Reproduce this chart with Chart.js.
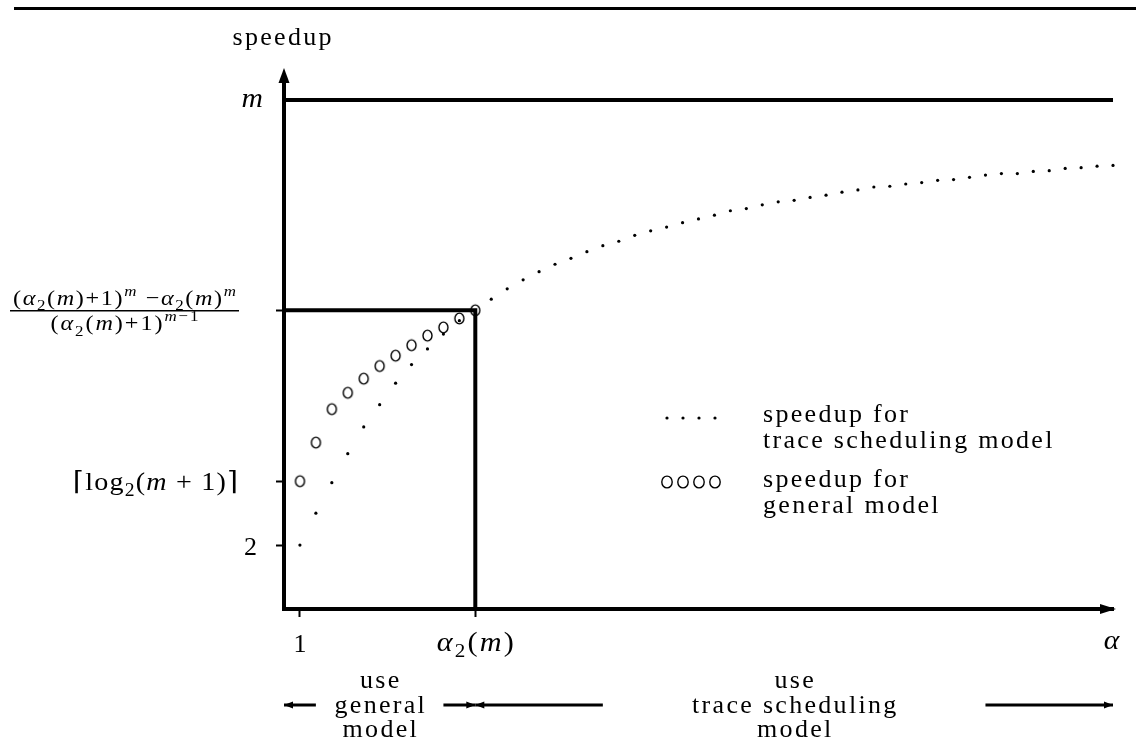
<!DOCTYPE html>
<html>
<head>
<meta charset="utf-8">
<script src="https://cdn.jsdelivr.net/npm/chart.js@4.4.1/dist/chart.umd.min.js"></script>
<style>
  html, body { margin: 0; padding: 0; background: #ffffff; }
  #wrap { width: 1136px; height: 744px; position: relative; }
  canvas { display: block; }
</style>
</head>
<body>
<div id="wrap"><canvas id="c" width="1136" height="744"></canvas></div>
<script>
// ---------------- data ----------------
const alphaSteps = [1, 2, 3, 4, 5, 6, 7, 8, 9, 10, 11, 12, 13, 14, 15, 16, 17, 18, 19, 20,
  21, 22, 23, 24, 25, 26, 27, 28, 29, 30, 31, 32, 33, 34, 35, 36, 37, 38, 39, 40,
  41, 42, 43, 44, 45, 46, 47, 48, 49, 50, 51, 52];

const traceSpeedup = [2.01, 2.44, 2.85, 3.24, 3.60, 3.90, 4.19, 4.44, 4.65, 4.85, 5.03, 5.17,
  5.32, 5.46, 5.58, 5.69, 5.79, 5.87, 5.96, 6.04, 6.10, 6.18,
  6.24, 6.29, 6.35, 6.40, 6.45, 6.51, 6.54, 6.59, 6.63, 6.65,
  6.69, 6.72, 6.76, 6.79, 6.83, 6.84, 6.87, 6.89, 6.92, 6.93,
  6.96, 6.99, 7.01, 7.01, 7.04, 7.05, 7.08, 7.09, 7.11, 7.12];

const generalSpeedup = [2.87, 3.39, 3.84, 4.06, 4.25, 4.42, 4.56, 4.70, 4.83, 4.94, 5.06, 5.17];

const xRange = [0, 52];
const yRange = [1.15, 8.27];
const alpha2 = 12;
const alpha2Speedup = 5.17;
const mValue = 8;

const xTickValues = [1, 12];
const xTickLabels = ['1', '*α*_{2}(*m*)'];
const xAxisLabel = '*α*';

const yTickValues = [2, 2.86, 5.17, 8];
const yTickLabels = [
  '2',
  '⌈log_{2}(*m* + 1)⌉',
  ['(*α*_{2}(*m*)+1)^{*m*} −*α*_{2}(*m*)^{*m*}', '(*α*_{2}(*m*)+1)^{*m*−1}'],
  '*m*'
];
const yAxisLabel = 'speedup';

const seriesLabels = [['speedup for', 'trace scheduling model'], ['speedup for', 'general model']];
const regionBounds = [[0, 12], [12, 52]];
const regionLabels = [['use', 'general', 'model'], ['use', 'trace scheduling', 'model']];

// ---------------- layout / style (pixels) ----------------
const SERIF = '"Liberation Serif", "DejaVu Serif", "Times New Roman", serif';
const TXT = 26;
const TXT_SP = 2.3;
const L = {
  rule: { x0: 14, y: 8.5, w: 3 },
  title: { dx: -2, dy: -35 },
  yLabels: [
    { gap: 27, dy: 9.5, size: 26 },
    { gap: 46, dy: 8, width: 165, size: 26, stretch: 1.08 },
    { frac: true, center: 159.5, half: 114.5, size: 22, stretch: 1.1, numDy: -5.5, denDy: 20, numW: 223, denW: 148 },
    { gap: 21, dy: 7, size: 27, stretch: 1.1 }
  ],
  xLabels: [{ dy: 43, size: 26 }, { dy: 42, width: 77, size: 27, stretch: 1.12 }],
  xTitle: { dx: -1.5, dy: 40 },
  regions: { arrowDy: 96, lines: [79, 103.5, 128], ends: [[2, 10], [20, 44]] },
  legend: { mx: 383, mStep: 16, tx: 479, rows: [
    { my: 418, base: [421.5, 448] },
    { my: 482, base: [487, 513] }
  ] }
};

function makeRing(rx, ry, lw) {
  const c = document.createElement('canvas');
  c.width = Math.ceil(2 * rx + lw + 2);
  c.height = Math.ceil(2 * ry + lw + 2);
  const g = c.getContext('2d');
  g.strokeStyle = '#000';
  g.lineWidth = lw;
  g.beginPath();
  g.ellipse(c.width / 2, c.height / 2, rx, ry, 0, 0, Math.PI * 2);
  g.stroke();
  return c;
}
const ring = makeRing(4.5, 5.4, 1.4);

// ---------------- rich text helpers ----------------
function richItems(str, base) {
  const items = [];
  function walk(s, size, dy, italic) {
    let i = 0;
    while (i < s.length) {
      const c = s[i];
      if (c === '*') { italic = !italic; i++; continue; }
      if ((c === '_' || c === '^') && s[i + 1] === '{') {
        let depth = 1, j = i + 2;
        while (j < s.length && depth > 0) {
          if (s[j] === '{') depth++; else if (s[j] === '}') depth--;
          j++;
        }
        const inner = s.slice(i + 2, j - 1);
        walk(inner, size * 0.7, dy + (c === '_' ? size * 0.24 : -size * 0.42), italic);
        i = j; continue;
      }
      items.push({ ch: c, size: size, dy: dy, italic: italic });
      i++;
    }
  }
  walk(str, base, 0, false);
  return items;
}
function fontOf(it) { return (it.italic ? 'italic ' : '') + it.size + 'px ' + SERIF; }
function drawRich(ctx, str, x, y, o) {
  const items = richItems(str, o.size || TXT);
  const sx = o.stretch || 1;
  let nat = 0;
  for (const it of items) { ctx.font = fontOf(it); it.w = ctx.measureText(it.ch).width * sx; nat += it.w; }
  let sp = o.spacing || 0;
  if (o.width && items.length > 1) sp = Math.max(0, (o.width - nat) / (items.length - 1));
  const total = nat + sp * Math.max(0, items.length - 1);
  let cx = o.align === 'right' ? x - total : (o.align === 'center' ? x - total / 2 : x);
  ctx.textAlign = 'left';
  ctx.textBaseline = 'alphabetic';
  for (const it of items) {
    ctx.font = fontOf(it);
    ctx.save();
    ctx.translate(cx, y + it.dy);
    ctx.scale(sx, 1);
    ctx.fillText(it.ch, 0, 0);
    ctx.restore();
    cx += it.w + sp;
  }
  return total;
}
function tri(ctx, a, b, c) {
  ctx.beginPath(); ctx.moveTo(a[0], a[1]); ctx.lineTo(b[0], b[1]); ctx.lineTo(c[0], c[1]); ctx.closePath(); ctx.fill();
}
function hArrow(ctx, x0, x1, y, headAt) {
  ctx.lineWidth = 3;
  ctx.beginPath(); ctx.moveTo(x0, y); ctx.lineTo(x1, y); ctx.stroke();
  const tip = headAt === 'start' ? x0 : x1;
  const dir = headAt === 'start' ? 1 : -1;
  tri(ctx, [tip, y], [tip + dir * 9, y - 3.5], [tip + dir * 9, y + 3.5]);
}

// ---------------- decoration plugin ----------------
const decor = {
  id: 'decor',
  afterDraw(chart) {
    const { ctx, chartArea: ca, scales: { x: xs, y: ys } } = chart;
    ctx.save();
    ctx.fillStyle = '#000';
    ctx.strokeStyle = '#000';

    // top rule
    ctx.lineWidth = L.rule.w;
    ctx.beginPath(); ctx.moveTo(L.rule.x0, L.rule.y); ctx.lineTo(chart.width, L.rule.y); ctx.stroke();

    // axis arrowheads
    tri(ctx, [ca.left, ca.top - 12], [ca.left - 5.5, ca.top + 3], [ca.left + 5.5, ca.top + 3]);
    tri(ctx, [ca.right + 3, ca.bottom], [ca.right - 13, ca.bottom - 5], [ca.right - 13, ca.bottom + 5]);

    // axis titles
    drawRich(ctx, yAxisLabel, ca.left + L.title.dx, ca.top + L.title.dy, { align: 'center', spacing: TXT_SP });
    drawRich(ctx, xAxisLabel, xs.getPixelForValue(xRange[1]) + L.xTitle.dx, ca.bottom + L.xTitle.dy,
      { align: 'center', size: 27, stretch: 1.1 });

    // y tick labels
    yTickValues.forEach((v, i) => {
      const py = ys.getPixelForValue(v);
      const st = L.yLabels[i];
      const lab = yTickLabels[i];
      if (st.frac) {
        const cx = ca.left - st.center;
        drawRich(ctx, lab[0], cx, py + st.numDy, { align: 'center', size: st.size, width: st.numW, stretch: st.stretch });
        drawRich(ctx, lab[1], cx, py + st.denDy, { align: 'center', size: st.size, width: st.denW, stretch: st.stretch });
        ctx.lineWidth = 1.6;
        ctx.beginPath(); ctx.moveTo(cx - st.half, py + 0.5); ctx.lineTo(cx + st.half, py + 0.5); ctx.stroke();
      } else {
        drawRich(ctx, lab, ca.left - st.gap, py + st.dy, { align: 'right', width: st.width, size: st.size, stretch: st.stretch });
      }
    });

    // x tick labels
    xTickValues.forEach((v, i) => {
      const st = L.xLabels[i];
      drawRich(ctx, xTickLabels[i], xs.getPixelForValue(v), ca.bottom + st.dy,
        { align: 'center', width: st.width, size: st.size, stretch: st.stretch });
    });

    // region annotations under the axis
    regionBounds.forEach((b, r) => {
      const cx = xs.getPixelForValue((b[0] + b[1]) / 2);
      regionLabels[r].forEach((t, k) => {
        drawRich(ctx, t, cx, ca.bottom + L.regions.lines[k], { align: 'center', spacing: TXT_SP });
      });
      const ay = ca.bottom + L.regions.arrowDy;
      const e = L.regions.ends[r];
      hArrow(ctx, xs.getPixelForValue(b[0]), xs.getPixelForValue(e[0]), ay, 'start');
      hArrow(ctx, xs.getPixelForValue(e[1]), xs.getPixelForValue(b[1]), ay, 'end');
    });

    // legend
    const lg = L.legend;
    lg.rows.forEach((row, r) => {
      for (let k = 0; k < 4; k++) {
        const mx = ca.left + lg.mx + k * lg.mStep;
        if (r === 0) {
          ctx.beginPath(); ctx.arc(mx, row.my, 1.6, 0, Math.PI * 2); ctx.fill();
        } else {
          ctx.lineWidth = 1.4;
          ctx.beginPath(); ctx.ellipse(mx, row.my, 5.2, 5.9, 0, 0, Math.PI * 2); ctx.stroke();
        }
      }
      seriesLabels[r].forEach((t, k) => {
        drawRich(ctx, t, ca.left + lg.tx, row.base[k], { align: 'left', spacing: TXT_SP });
      });
    });
    ctx.restore();
  }
};

// ---------------- chart ----------------
const ctx = document.getElementById('c').getContext('2d');
new Chart(ctx, {
  type: 'scatter',
  data: {
    datasets: [
      {
        label: 'm',
        data: [{ x: xRange[0], y: mValue }, { x: xRange[1], y: mValue }],
        showLine: true, borderColor: '#000', borderWidth: 4, pointRadius: 0, clip: false
      },
      {
        label: 'α2(m)',
        data: [{ x: xRange[0], y: alpha2Speedup }, { x: alpha2, y: alpha2Speedup }, { x: alpha2, y: yRange[0] }],
        showLine: true, borderColor: '#000', borderWidth: 4, pointRadius: 0,
        borderJoinStyle: 'miter', clip: false
      },
      {
        label: seriesLabels[0].join(' '),
        data: alphaSteps.map((a, i) => ({ x: a, y: traceSpeedup[i] })),
        showLine: false, pointRadius: 1.6, pointBorderWidth: 0,
        pointBackgroundColor: '#000', backgroundColor: '#000', clip: false
      },
      {
        label: seriesLabels[1].join(' '),
        data: generalSpeedup.map((v, i) => ({ x: alphaSteps[i], y: v })),
        showLine: false, pointStyle: ring, pointRadius: 6, clip: false
      }
    ]
  },
  options: {
    responsive: false,
    animation: false,
    devicePixelRatio: 1,
    events: [],
    layout: { padding: { left: 276, right: 23, top: 80, bottom: 127 } },
    plugins: { legend: { display: false }, tooltip: { enabled: false }, title: { display: false } },
    scales: {
      x: {
        type: 'linear', position: 'bottom', min: xRange[0], max: xRange[1],
        afterBuildTicks: s => { s.ticks = xTickValues.map(v => ({ value: v })); },
        ticks: { display: false },
        grid: { drawOnChartArea: false, drawTicks: true, tickLength: 8, tickWidth: 2, tickColor: '#000' },
        border: { display: true, color: '#000', width: 4 }
      },
      y: {
        type: 'linear', position: 'left', min: yRange[0], max: yRange[1],
        afterBuildTicks: s => { s.ticks = yTickValues.map(v => ({ value: v })); },
        ticks: { display: false },
        grid: {
          drawOnChartArea: false, drawTicks: true, tickLength: 8, tickWidth: 2,
          tickColor: c => (c.tick && c.tick.value === mValue) ? 'rgba(0,0,0,0)' : '#000'
        },
        border: { display: true, color: '#000', width: 4 }
      }
    }
  },
  plugins: [decor]
});
</script>
</body>
</html>
